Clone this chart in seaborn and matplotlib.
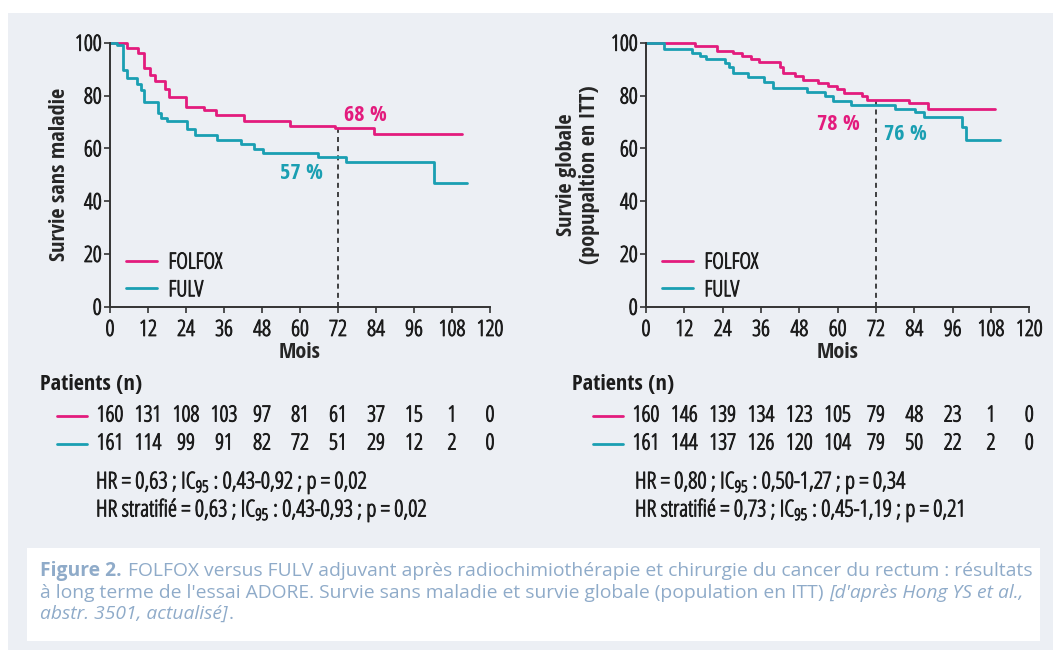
import numpy as np
import pandas as pd
import matplotlib
matplotlib.use("Agg")
import matplotlib.pyplot as plt
import matplotlib.transforms as mtransforms
import matplotlib.patheffects as pe
from matplotlib.patches import Rectangle
import seaborn as sns

# ---------------------------------------------------------------- data
arms = ["FOLFOX", "FULV"]

# Disease-free survival (step times in months, survival in %)
dfs_folfox_t = [0, 5.3, 8.7, 10.6, 12.7, 14.3, 17.3, 18.5, 24.0, 29.7, 33.4,
                42.4, 56.7, 71.0, 83.5, 111.2]
dfs_folfox_s = [100, 98.0, 96.1, 90.5, 87.9, 85.5, 82.6, 79.4, 75.5, 74.4, 72.5,
                70.5, 68.3, 67.6, 65.6, 65.6]
dfs_fulv_t = [0, 2.1, 4.0, 5.3, 8.5, 9.7, 10.6, 15.0, 16.2, 18.0, 24.2, 26.7,
              33.7, 41.3, 45.6, 48.2, 65.7, 74.5, 102.2, 112.6]
dfs_fulv_s = [100, 99.0, 89.5, 86.8, 84.5, 82.0, 77.6, 73.4, 71.6, 70.4, 67.5, 65.2,
              63.3, 61.8, 59.9, 58.4, 56.7, 54.7, 46.9, 46.9]

# Overall survival
os_folfox_t = [0, 15.3, 22.1, 27.1, 29.9, 32.9, 35.5, 42.0, 43.0, 46.6, 49.2,
               53.9, 56.9, 59.7, 62.0, 67.5, 69.1, 82.4, 88.4, 109.3]
os_folfox_s = [100, 98.7, 96.8, 96.2, 94.8, 93.9, 92.7, 90.8, 88.7, 87.3, 86.0,
               84.7, 83.5, 82.3, 81.1, 79.7, 78.4, 77.2, 74.7, 74.7]
os_fulv_t = [0, 5.6, 14.3, 16.9, 18.8, 24.7, 26.1, 27.1, 32.0, 36.9, 39.9, 50.3,
             56.0, 58.4, 64.1, 78.0, 84.2, 87.0, 98.8, 100.2, 110.8]
os_fulv_s = [100, 97.7, 96.2, 95.1, 93.8, 92.3, 90.8, 88.5, 87.0, 85.1, 83.0, 81.2,
             79.7, 77.9, 76.4, 75.0, 73.8, 71.9, 68.1, 63.1, 63.1]

# Survival at 72 months, as annotated
dfs_at_72 = [68, 57]
os_at_72 = [78, 76]
landmark_month = 72

x_ticks = [0, 12, 24, 36, 48, 60, 72, 84, 96, 108, 120]
y_ticks = [0, 20, 40, 60, 80, 100]

# Patients at risk at each x tick
dfs_risk_folfox = [160, 131, 108, 103, 97, 81, 61, 37, 15, 1, 0]
dfs_risk_fulv = [161, 114, 99, 91, 82, 72, 51, 29, 12, 2, 0]
os_risk_folfox = [160, 146, 139, 134, 123, 105, 79, 48, 23, 1, 0]
os_risk_fulv = [161, 144, 137, 126, 120, 104, 79, 50, 22, 2, 0]

dfs_stats = ["HR = 0,63 ; IC$_{95}$ : 0,43-0,92 ; p = 0,02",
             "HR stratifié = 0,63 ; IC$_{95}$ : 0,43-0,93 ; p = 0,02"]
os_stats = ["HR = 0,80 ; IC$_{95}$ : 0,50-1,27 ; p = 0,34",
            "HR stratifié = 0,73 ; IC$_{95}$ : 0,45-1,19 ; p = 0,21"]

# ---------------------------------------------------------------- style
PINK = "#E31B7D"
TEAL = "#1A9FB2"
PANEL = "#ECEFF4"
INK = "#1c1c1c"
CAPTION = "#8FABC9"

sns.set_theme(style="white")
FONT = "Open Sans"
plt.rcParams["font.family"] = [FONT, "DejaVu Sans"]
plt.rcParams["font.stretch"] = "condensed"
plt.rcParams["mathtext.fontset"] = "custom"
plt.rcParams["mathtext.rm"] = FONT
plt.rcParams["mathtext.it"] = FONT + ":italic"
plt.rcParams["mathtext.bf"] = FONT + ":bold"
plt.rcParams["text.color"] = INK

FS = 16
BOLD = dict(family=["Open Sans Condensed", "Open Sans", "DejaVu Sans"],
            fontweight="bold", fontstretch="condensed")


def thick(color, w=0.7):
    return [pe.withStroke(linewidth=w, foreground=color)]


W, H = 1061, 650
fig = plt.figure(figsize=(W / 100, H / 100), dpi=100, facecolor="white")


def fx(px):
    return px / W


def fy(py):
    return 1 - py / H


# light panel and caption box
fig.patches.append(Rectangle((fx(8), 0), fx(1053) - fx(8), fy(13), transform=fig.transFigure,
                             facecolor=PANEL, edgecolor="none", zorder=-10))
fig.patches.append(Rectangle((fx(27), fy(641)), fx(1040) - fx(27), fy(548) - fy(641),
                             transform=fig.transFigure, facecolor="white",
                             edgecolor="none", zorder=-9))

ax_l = fig.add_axes([fx(110), fy(306.7), fx(490) - fx(110), fy(42.7) - fy(306.7)])
ax_r = fig.add_axes([fx(646), fy(306.7), fx(1029.3) - fx(646), fy(42.7) - fy(306.7)])


def curve_frame(t1, s1, t2, s2):
    return pd.DataFrame({
        "Mois": list(t1) + list(t2),
        "Survie": list(s1) + list(s2),
        "Bras": [arms[0]] * len(t1) + [arms[1]] * len(t2),
    })


def draw_panel(ax, df, at72, ylabel, ylabel_x, labels_pos):
    ax.set_facecolor("none")
    sns.lineplot(data=df, x="Mois", y="Survie", hue="Bras", hue_order=arms,
                 palette=[PINK, TEAL], estimator=None, sort=False,
                 drawstyle="steps-post", linewidth=2.0, clip_on=False, ax=ax)
    ax.set_xlim(0, 120)
    ax.set_ylim(0, 100)
    ax.set_xticks(x_ticks)
    ax.set_yticks(y_ticks)
    for s in ["top", "right"]:
        ax.spines[s].set_visible(False)
    for s in ["left", "bottom"]:
        ax.spines[s].set_color("#333333")
        ax.spines[s].set_linewidth(1.4)
    ax.tick_params(axis="both", direction="out", length=4.5, width=1.2, color="#333333",
                   labelsize=FS, labelcolor=INK, left=True, bottom=True)
    ax.tick_params(axis="x", pad=5)
    ax.tick_params(axis="y", pad=1.5)
    for lab in ax.get_xticklabels() + ax.get_yticklabels():
        lab.set_path_effects(thick(INK))
    ax.set_xlabel("Mois", fontsize=FS, labelpad=1, **BOLD)
    ax.set_ylabel(ylabel, fontsize=FS, linespacing=1.1, **BOLD)
    ax.yaxis.set_label_coords(ylabel_x, 0.5)
    ax.grid(False)
    # landmark at 72 months
    ax.plot([landmark_month, landmark_month], [0, at72[0]], color="#222222",
            linestyle=(0, (3, 2.5)), linewidth=1.2, zorder=1)
    for (x, y), val, col in zip(labels_pos, at72, [PINK, TEAL]):
        ax.text(x, y, f"{val} %", color=col, fontsize=FS, ha="center", va="center", **BOLD)
    leg = ax.legend(loc="lower left", bbox_to_anchor=(-0.01, -0.055), frameon=False,
                    fontsize=FS, handlelength=1.4, handletextpad=0.5, labelspacing=0.3,
                    title=None)
    for line in leg.get_lines():
        line.set_linewidth(2.0)
    for t in leg.get_texts():
        t.set_path_effects(thick(INK))


draw_panel(ax_l, curve_frame(dfs_folfox_t, dfs_folfox_s, dfs_fulv_t, dfs_fulv_s),
           dfs_at_72, "Survie sans maladie", -0.105, [(80.8, 72.6), (60.3, 50.6)])
draw_panel(ax_r, curve_frame(os_folfox_t, os_folfox_s, os_fulv_t, os_fulv_s),
           os_at_72, "Survie globale\n(popupaltion en ITT)", -0.12,
           [(60.1, 69.2), (81.1, 65.4)])


def risk_table(ax, x_title, line_x, risk_a, risk_b, stats, stats_x):
    tr = mtransforms.blended_transform_factory(ax.transData, fig.transFigure)
    fig.text(fx(x_title), fy(385), "Patients (n)", fontsize=FS, ha="left", va="center",
             **BOLD)
    for row, (vals, col) in enumerate([(risk_a, PINK), (risk_b, TEAL)]):
        yy = fy(416 + 28 * row)
        fig.add_artist(plt.Line2D([fx(line_x), fx(line_x + 30)], [yy, yy], color=col,
                                  linewidth=2.0, transform=fig.transFigure))
        for xt, v in zip(x_ticks, vals):
            ax.text(xt, yy, str(v), transform=tr, fontsize=FS, ha="center", va="center",
                    path_effects=thick(INK))
    for i, s in enumerate(stats):
        fig.text(fx(stats_x), fy(483 + 27 * i), s, fontsize=FS + 0.6, ha="left",
                 va="center", path_effects=thick(INK))


risk_table(ax_l, 40, 57, dfs_risk_folfox, dfs_risk_fulv, dfs_stats, 96)
risk_table(ax_r, 572, 593, os_risk_folfox, os_risk_fulv, os_stats, 635)

# ---------------------------------------------------------------- caption
caption_lines = [
    [("Figure 2.", "normal", "bold"),
     (" FOLFOX versus FULV adjuvant après radiochimiothérapie et chirurgie du cancer du rectum : résultats",
      "normal", "normal")],
    [("à long terme de l'essai ADORE. Survie sans maladie et survie globale (population en ITT) ",
      "normal", "normal"),
     ("[d'après Hong YS et al.,", "italic", "normal")],
    [("abstr. 3501, actualisé]", "italic", "normal"), (".", "normal", "normal")],
]
renderer = fig.canvas.get_renderer()
CAP_FAMILY = ["Open Sans", "DejaVu Sans"]


def draw_caption_line(pieces, y, size, keep=True):
    x = fx(40)
    made = []
    for txt, style, weight in pieces:
        t = fig.text(x, y, txt, fontsize=size, color=CAPTION, style=style,
                     fontweight=weight, ha="left", va="center",
                     family=CAP_FAMILY, fontstretch="normal")
        made.append(t)
        bb = t.get_window_extent(renderer=renderer)
        x = (bb.x1 + 1) / fig.bbox.width
    if not keep:
        for t in made:
            t.remove()
    return x


# size the caption so the first line fills the box width
probe = 12.0
right = draw_caption_line(caption_lines[0], fy(571), probe, keep=False)
cap_size = probe * (fx(1030) - fx(40)) / (right - fx(40))
for i, pieces in enumerate(caption_lines):
    draw_caption_line(pieces, fy(571 + 21.5 * i), cap_size)

fig.savefig("out.png", dpi=100, facecolor="white")
